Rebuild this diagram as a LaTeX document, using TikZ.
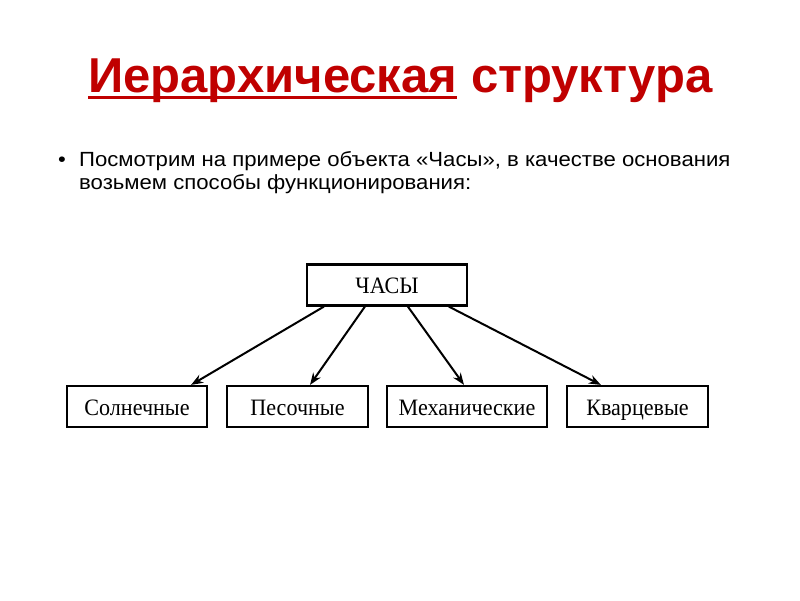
\documentclass[tikz,border=0pt]{standalone}
\usepackage{fontspec}
\setmainfont{Liberation Serif}
\newfontfamily\boxfont[FakeStretch=0.94]{Liberation Serif}
\newfontfamily\sansfont{Liberation Sans}
\newfontfamily\bodyfont[FakeStretch=1.08]{Liberation Sans}
\usetikzlibrary{arrows.meta,calc}
\definecolor{titlered}{HTML}{C00000}
\tikzset{
  box/.style={draw=black, line width=2.2pt, rectangle, minimum height=41pt, inner sep=0pt,
    text height=17pt, text depth=0pt,
    font=\boxfont\fontsize{23.5}{27}\selectfont},
  conn/.style={line width=2pt, -{Stealth[length=12pt,width=9pt]}},
  titletext/.style={inner sep=0pt, text=titlered, font=\sansfont\bfseries\fontsize{49}{56}\selectfont},
  bodytext/.style={inner sep=0pt, font=\bodyfont\fontsize{20.5}{22.5}\selectfont, align=left}
}
\begin{document}
\begin{tikzpicture}[x=1pt,y=-1pt]
\useasboundingbox (0,0) rectangle (800,600);
\fill[white] (0,0) rectangle (800,600);
% title
\node[titletext, anchor=base west] (t1) at (88,92) {Иерархическая};
\node[titletext, anchor=base west] (t2) at ($(t1.base east)+(13.6,0)$) {структура};
\draw[titlered, line width=3pt] ($(t1.base west)+(0,5.5)$) -- ($(t1.base east)+(0,5.5)$);
% bullet text
\node[bodytext, anchor=base] (bul) at (62,166.5) {•};
\node[bodytext, anchor=base west] (body) at (79,189) {Посмотрим на примере объекта «Часы», в качестве основания\\возьмем способы функционирования:};
% diagram
\node[box, minimum width=160pt] (chasy) at (387,285) {ЧАСЫ};
\node[box, minimum width=140pt] (sol) at (137,406.5) {Солнечные};
\node[box, minimum width=141pt] (pes) at (297.5,406.5) {Песочные};
\node[box, minimum width=160pt] (mech) at (467,406.5) {Механические};
\node[box, minimum width=141pt] (kvar) at (637.5,406.5) {Кварцевые};
\draw[conn] ($(chasy.south west)+(18,0)$) -- ($(sol.north east)+(-17,0)$);
\draw[conn] ($(chasy.south west)+(59,0)$) -- ($(pes.north)+(12.5,0)$);
\draw[conn] ($(chasy.south west)+(102,0)$) -- ($(mech.north)+(-3,0)$);
\draw[conn] ($(chasy.south west)+(143,0)$) -- ($(kvar.north west)+(35,0)$);
\end{tikzpicture}
\end{document}
